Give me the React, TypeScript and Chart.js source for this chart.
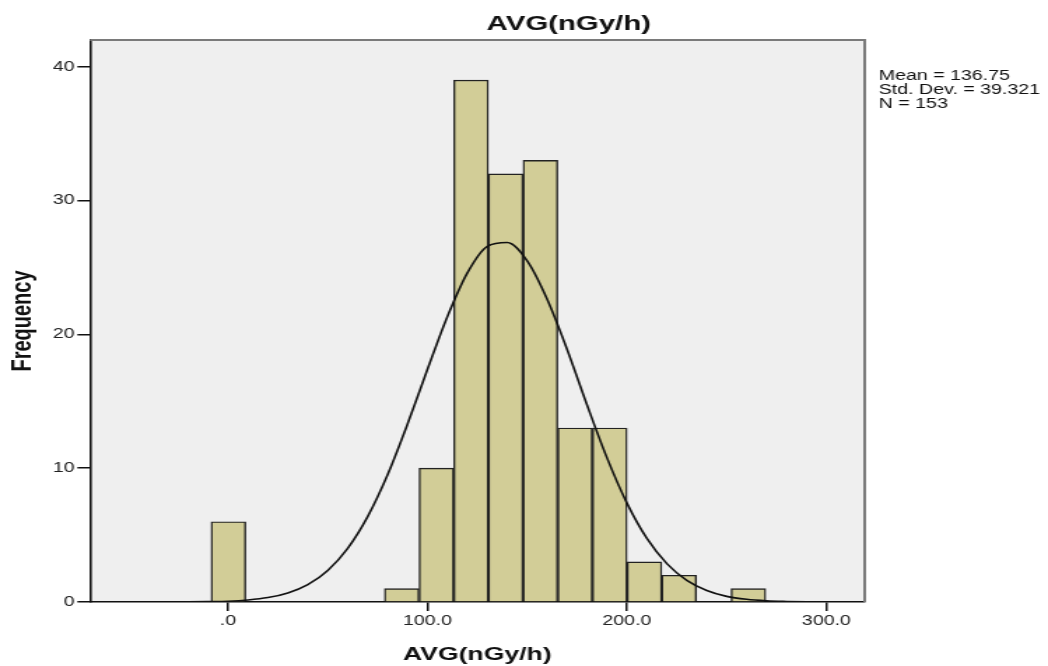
import React, { useEffect, useRef } from "react";
import { Chart, registerables } from "chart.js";

Chart.register(...registerables);

// ---- Data ----
const binCenters = [0.19, 17.57, 34.95, 52.33, 69.71, 87.09, 104.47, 121.85, 139.23, 156.61, 173.99, 191.37, 208.75, 226.13, 243.51, 260.89];
const frequencies = [6, 0, 0, 0, 0, 1, 10, 39, 32, 33, 13, 13, 3, 2, 0, 1];

const curveX = [-70, -60, -50, -40, -30, -20, -10, 0, 10, 20, 30, 40, 50, 60, 70, 80, 90, 100, 110, 120, 130, 140, 150, 160, 170, 180, 190, 200, 210, 220, 230, 240, 250, 260, 270, 280, 290, 300, 310, 320];
const curveY = [0, 0, 0, 0, 0, 0.01, 0.03, 0.06, 0.15, 0.33, 0.68, 1.3, 2.36, 4.01, 6.38, 9.51, 13.3, 17.39, 21.34, 24.6, 26.58, 26.87, 25.49, 22.62, 18.87, 14.72, 10.77, 7.39, 4.75, 2.87, 1.62, 0.86, 0.42, 0.2, 0.09, 0.04, 0.01, 0, 0, 0];

const xTicks = [0, 100, 200, 300];
const xTickLabels = [".0", "100.0", "200.0", "300.0"];
const yTicks = [0, 10, 20, 30, 40];

const chartTitle = "AVG(nGy/h)";
const xTitle = "AVG(nGy/h)";
const yTitle = "Frequency";
const statsLines = ["Mean = 136.75", "Std. Dev. = 39.321", "N = 153"];

// ---- Layout constants ----
const STRETCH = 1.3992;
const W = 749;
const H = 666;
const FONT = "'Liberation Sans', Arial, Helvetica, sans-serif";

const decorPlugin = {
  id: "decor",
  beforeDraw(chart: any) {
    const { ctx, chartArea } = chart;
    ctx.save();
    ctx.fillStyle = "#ffffff";
    ctx.fillRect(0, 0, chart.width, chart.height);
    ctx.fillStyle = "#efefef";
    ctx.fillRect(chartArea.left, chartArea.top, chartArea.right - chartArea.left, chartArea.bottom - chartArea.top);
    ctx.restore();
  },
  afterDraw(chart: any) {
    const { ctx, chartArea } = chart;
    ctx.save();
    // top and right frame
    ctx.strokeStyle = "#7a7a7a";
    ctx.lineWidth = 2;
    ctx.beginPath();
    ctx.moveTo(chartArea.left, chartArea.top);
    ctx.lineTo(chartArea.right, chartArea.top);
    ctx.lineTo(chartArea.right, chartArea.bottom);
    ctx.stroke();
    // main title
    ctx.fillStyle = "#111";
    ctx.font = `bold 21px ${FONT}`;
    ctx.textAlign = "center";
    ctx.textBaseline = "alphabetic";
    ctx.fillText(chartTitle, 406.5, 30);
    // stats text
    ctx.font = `14px ${FONT}`;
    ctx.textAlign = "left";
    ctx.fillStyle = "#111";
    const baseY = 80;
    statsLines.forEach((t, i) => {
      ctx.fillText(t, 628, baseY + i * 14.2);
    });
    ctx.restore();
  },
};

export default function App() {
  const ref = useRef<HTMLCanvasElement | null>(null);

  useEffect(() => {
    if (!ref.current) return;
    const barData = binCenters.map((x, i) => ({ x, y: frequencies[i] }));
    const lineData = curveX.map((x, i) => ({ x, y: curveY[i] }));
    const tickFont = { family: FONT, size: 14 };
    const chart = new Chart(ref.current, {
      type: "bar",
      data: {
        datasets: [
          {
            type: "line",
            label: "Normal",
            data: lineData,
            borderColor: "#111",
            borderWidth: 1.6,
            pointRadius: 0,
            fill: false,
            cubicInterpolationMode: "monotone",
            order: 0,
          } as any,
          {
            type: "bar",
            label: "Frequency",
            data: barData,
            backgroundColor: "#d2cd97",
            borderColor: "#222",
            borderWidth: 1.4,
            barPercentage: 1,
            categoryPercentage: 1,
            order: 1,
          } as any,
        ],
      },
      options: {
        animation: false,
        responsive: false,
        devicePixelRatio: 1,
        layout: { padding: { left: 0, top: 40, right: 131, bottom: 0 } },
        plugins: {
          legend: { display: false },
          title: { display: false },
          tooltip: { enabled: false },
        },
        scales: {
          x: {
            type: "linear",
            min: -69.2,
            max: 319.2,
            offset: false,
            afterBuildTicks: (s: any) => {
              s.ticks = xTicks.map((v) => ({ value: v }));
            },
            afterFit: (s: any) => {
              s.height = 64;
            },
            ticks: {
              callback: (v: any) => xTickLabels[xTicks.indexOf(Number(v))],
              font: tickFont,
              color: "#222",
              padding: 2,
              maxRotation: 0,
              autoSkip: false,
            },
            grid: {
              display: true,
              offset: false,
              drawOnChartArea: false,
              drawTicks: true,
              tickLength: 9,
              color: "#111",
              lineWidth: 1.5,
            },
            border: { display: true, color: "#111", width: 1.6 },
            title: {
              display: true,
              text: xTitle,
              color: "#111",
              font: { family: FONT, size: 19, weight: "bold" },
              padding: { top: 0, bottom: 0 },
            },
          },
          y: {
            type: "linear",
            min: 0,
            max: 42,
            afterBuildTicks: (s: any) => {
              s.ticks = yTicks.map((v) => ({ value: v }));
            },
            afterFit: (s: any) => {
              s.width = 64.3;
            },
            ticks: {
              font: tickFont,
              color: "#222",
              padding: 2,
            },
            grid: {
              display: true,
              drawOnChartArea: false,
              drawTicks: true,
              tickLength: 9,
              color: "#111",
              lineWidth: 1.5,
            },
            border: { display: true, color: "#111", width: 1.6 },
            title: {
              display: true,
              text: yTitle,
              color: "#111",
              font: { family: FONT, size: 20, weight: "bold" },
              padding: { top: 4, bottom: 0 },
            },
          },
        },
      } as any,
      plugins: [decorPlugin],
    });
    return () => chart.destroy();
  }, []);

  return (
    <div
      style={{
        position: "absolute",
        left: 0,
        top: 0,
        width: 1048,
        height: 666,
        overflow: "hidden",
        background: "#fff",
      }}
    >
      <canvas
        ref={ref}
        width={W}
        height={H}
        style={{
          width: W,
          height: H,
          display: "block",
          transform: `scaleX(${STRETCH})`,
          transformOrigin: "0 0",
        }}
      />
    </div>
  );
}
